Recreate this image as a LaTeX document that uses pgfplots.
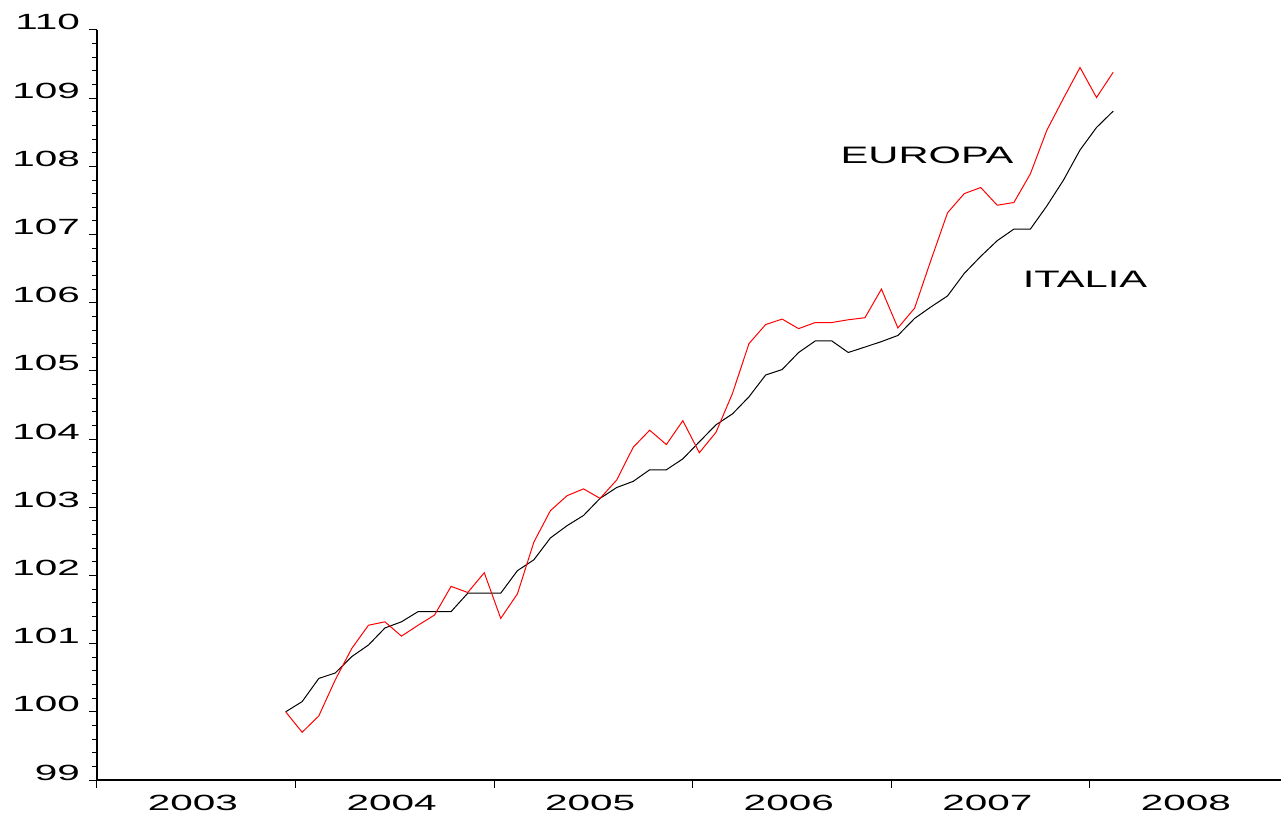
\documentclass[border=0pt]{standalone}
\usepackage{pgfplots}
\pgfplotsset{compat=1.18}
\usepackage{pgfplotstable}
\usepackage{graphicx}
\usepackage{fontspec}
\setmainfont{Liberation Sans}
\newcommand{\sx}[1]{\scalebox{1.84}[1]{#1}}
\newcommand{\slab}[1]{\scalebox{1.75}[1]{#1}}
\pgfplotstableread{
x ita eur
2003.950 100.00 100.00
2004.033 100.15 99.70
2004.117 100.49 99.94
2004.200 100.57 100.47
2004.283 100.81 100.93
2004.367 100.98 101.27
2004.450 101.23 101.32
2004.533 101.32 101.11
2004.617 101.47 101.27
2004.700 101.47 101.42
2004.783 101.47 101.84
2004.867 101.74 101.75
2004.950 101.74 102.04
2005.033 101.74 101.37
2005.117 102.07 101.73
2005.200 102.23 102.49
2005.283 102.55 102.95
2005.367 102.73 103.17
2005.450 102.88 103.27
2005.533 103.13 103.13
2005.617 103.29 103.40
2005.700 103.38 103.88
2005.783 103.55 104.13
2005.867 103.55 103.92
2005.950 103.71 104.27
2006.033 103.96 103.80
2006.117 104.21 104.10
2006.200 104.37 104.67
2006.283 104.62 105.40
2006.367 104.94 105.68
2006.450 105.02 105.76
2006.533 105.27 105.62
2006.617 105.44 105.71
2006.700 105.44 105.71
2006.783 105.27 105.75
2006.867 105.35 105.78
2006.950 105.43 106.20
2007.033 105.52 105.63
2007.117 105.77 105.92
2007.200 105.94 106.63
2007.283 106.10 107.32
2007.367 106.43 107.60
2007.450 106.68 107.69
2007.533 106.91 107.43
2007.617 107.08 107.47
2007.700 107.08 107.89
2007.783 107.42 108.53
2007.867 107.80 109.00
2007.950 108.24 109.45
2008.033 108.57 109.01
2008.117 108.81 109.38
}\data
\begin{document}
\begin{tikzpicture}
\begin{axis}[
  scale only axis, width=592pt, height=375pt,
  xmin=2003, xmax=2008.962, ymin=99, ymax=110,
  axis x line=bottom, axis y line=left,
  axis line style={-, line width=0.75pt, black},
  tick align=outside,
  xtick={2003,2004,2005,2006,2007,2008},
  xticklabels={\sx{2003},\sx{2004},\sx{2005},\sx{2006},\sx{2007},\sx{2008}},
  xticklabel style={xshift=48pt},
  ytick={99,100,101,102,103,104,105,106,107,108,109,110},
  yticklabels={\sx{99},\sx{100},\sx{101},\sx{102},\sx{103},\sx{104},\sx{105},\sx{106},\sx{107},\sx{108},\sx{109},\sx{110}},
  yticklabel style={anchor=base east, xshift=-1pt},
  minor y tick num=4,
  major tick length=4pt, minor tick length=2.5pt,
  tick style={black, line width=0.5pt},
  tick label style={font=\fontsize{11}{13}\selectfont},
  clip=false,
]
\addplot[black, line width=0.5pt] table[x=x, y=ita] {\data};
\addplot[red, line width=0.5pt] table[x=x, y=eur] {\data};
\node[font=\fontsize{11.9}{14}\selectfont] at (axis cs:2007.18,108.16) {\slab{EUROPA}};
\node[font=\fontsize{11.9}{14}\selectfont] at (axis cs:2007.975,106.35) {\slab{ITALIA}};
\end{axis}
\pgfresetboundingbox
\useasboundingbox (-48.5pt,-18pt) rectangle (592pt,390pt);
\end{tikzpicture}
\end{document}
